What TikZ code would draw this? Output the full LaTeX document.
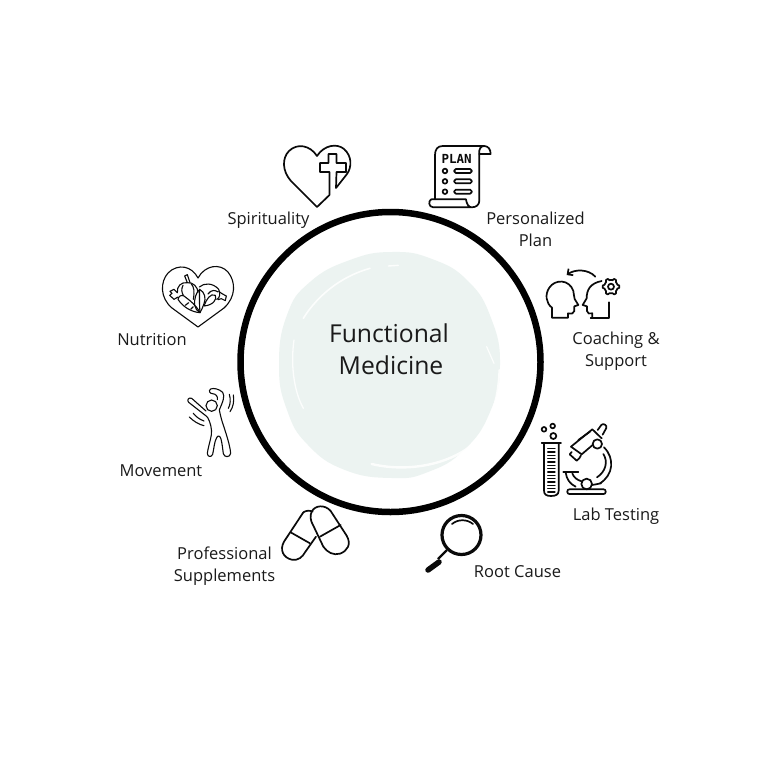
\documentclass[tikz,border=0pt]{standalone}
\usepackage{fontspec}
\setmainfont{Open Sans}
\newfontfamily\planf{DejaVu Sans Mono}
\usetikzlibrary{arrows.meta}
\definecolor{ink}{HTML}{0A0A0A}
\definecolor{txt}{HTML}{1A1A1A}
\definecolor{blob}{HTML}{ECF3F1}
\tikzset{
 lab/.style={text=txt,font=\fontsize{16.5}{22}\selectfont,align=center,inner sep=0pt},
 ttl/.style={text=txt,font=\fontsize{24.7}{30}\selectfont,inner sep=0pt},
 ic/.style={draw=ink,line width=1.7pt,line join=round,line cap=round,fill=none},
 icthin/.style={draw=ink,line width=1.1pt,line join=round,line cap=round,fill=none},
 brush/.style={white,line cap=round,opacity=.85},
}
\begin{document}
\begin{tikzpicture}[x=1pt,y=-1pt]
\useasboundingbox (0,0) rectangle (756,763);
\fill[white] (0,0) rectangle (756,763);
% brushed central disc
\fill[blob] plot[smooth cycle,tension=.8] coordinates {(392,252)(432,259)(468,281)(491,318)(500,365)(490,412)(464,450)(428,472)(392,478)(345,470)(308,445)(287,410)(279,365)(287,315)(310,282)(350,260)};
\begin{scope}[shift={(270,240)},x=0.3333pt,y=-0.3333pt]
\draw[brush,line width=1.6pt] (100,235) .. controls (140,170) and (210,110) .. (300,85);
\draw[brush,line width=1.4pt] (355,78) -- (385,76);
\draw[brush,line width=1.3pt] (72,300) .. controls (62,370) and (70,450) .. (100,505);
\draw[brush,line width=2.4pt] (305,672) .. controls (400,695) and (520,680) .. (600,620);
\draw[brush,line width=1.8pt] (610,610) .. controls (660,560) and (685,480) .. (688,390);
\draw[brush,line width=1.2pt] (650,320) -- (672,370);
\end{scope}
% ring
\node[draw=black,line width=6.5pt,circle,minimum size=300pt,inner sep=0pt] (ring) at (390.5,362) {};
% titles
\node[ttl] (t1) at (389,333) {Functional};
\node[ttl] (t2) at (391,365) {Medicine};
% labels
\node[lab] (spi) at (268.5,220) {Spirituality};
\node[lab] (pla) at (535.5,229) {Personalized\\Plan};
\node[lab] (coa) at (616,351) {Coaching \&\\Support};
\node[lab] (nut) at (152,340) {Nutrition};
\node[lab] (mov) at (161,471) {Movement};
\node[lab] (labt) at (616,516) {Lab Testing};
\node[lab] (roo) at (517.5,572) {Root Cause};
\node[lab] (sup) at (224.5,566) {Professional\\Supplements};
% heart with cross
\draw[ic] (329.5,195) -- (317,207) -- (291,181) .. controls (282,171) and (282,158) .. (289,151) .. controls (297,143) and (310,145) .. (317,156) .. controls (324,145) and (337,143) .. (344,149) .. controls (352,156) and (352,167) .. (347,174) -- (336,188) -- (336.5,172) -- (346,172) -- (346,163) -- (336.5,163) -- (336.5,154) -- (328.5,154) -- (328.5,163) -- (320,163) -- (320,172) -- (329.5,172) -- cycle;
% plan scroll
\begin{scope}[shift={(270,130)},x=0.3333pt,y=-0.3333pt]
\draw[ic] (495,208) -- (495,75) .. controls (495,58) and (503,48) .. (518,48) -- (642,48) .. controls (655,48) and (662,58) .. (662,72) -- (630,72);
\draw[ic] (628,72) .. controls (626,58) and (632,48) .. (642,48);
\draw[ic] (628,72) -- (628,212) .. controls (628,225) and (618,232) .. (605,232) -- (490,232) .. controls (476,232) and (474,212) .. (484,208) -- (588,208) .. controls (590,222) and (596,232) .. (605,232);
\node[inner sep=0pt,text=ink,font=\fontsize{12.5}{14}\planf\bfseries] (plant) at (560,87) {PLAN};
\foreach \yy in {123,154,185} {
 \draw[ic] (525,\yy) circle (7);
 \draw[ic,rounded corners=1.5pt] (553,\yy-6) rectangle (605,\yy+6);
}
\end{scope}
% nutrition heart
\draw[icthin] (198,327) -- (172,308) .. controls (160,298) and (160,282) .. (168,273) .. controls (178,263) and (192,266) .. (198,278) .. controls (205,265) and (220,263) .. (228,272) .. controls (236,282) and (236,297) .. (224,308) -- cycle;
\begin{scope}[shift={(158,262)},x=0.3333pt,y=-0.3333pt]
\draw[icthin] (60,112) .. controls (62,102) and (70,98) .. (78,102) .. controls (95,115) and (115,130) .. (126,152) .. controls (100,150) and (75,135) .. (60,112) -- cycle;
\draw[icthin] (82,130) -- (92,122) (98,142) -- (106,134);
\draw[icthin] (60,105) -- (48,112) -- (35,100) -- (42,94) -- (36,88) -- (48,82) -- (58,92);
\draw[icthin] (58,92) .. controls (56,72) and (70,60) .. (88,62) .. controls (105,60) and (120,75) .. (120,92);
\draw[icthin] (88,62) -- (80,42) -- (88,38) -- (96,62);
\draw[icthin] (75,70) .. controls (70,80) and (70,90) .. (76,100);
\draw[icthin] (100,66) .. controls (108,75) and (110,88) .. (106,112);
\draw[icthin] (110,130) .. controls (108,110) and (115,90) .. (125,82) .. controls (140,90) and (145,110) .. (138,125) .. controls (135,135) and (130,145) .. (126,152) .. controls (118,148) and (112,140) .. (110,130) -- cycle;
\draw[icthin] (125,82) .. controls (124,105) and (124,125) .. (126,152);
\draw[icthin] (124,75) .. controls (138,62) and (165,62) .. (182,82) .. controls (188,92) and (186,110) .. (176,112);
\draw[icthin] (138,132) .. controls (145,112) and (158,92) .. (172,100) .. controls (178,112) and (165,130) .. (138,132) -- cycle;
\draw[icthin] (150,96) .. controls (160,82) and (172,84) .. (180,90);
\draw[icthin] (182,88) -- (192,95) -- (205,102) -- (202,116) -- (190,110) -- (180,113);
\end{scope}
% movement
\begin{scope}[shift={(180,385)},x=0.3333pt,y=-0.3333pt]
\draw[icthin] (95,62) circle (17);
\draw[icthin] (78,78) -- (35,40) .. controls (25,36) and (20,46) .. (26,52) -- (72,88) .. controls (82,95) and (86,100) .. (88,108) .. controls (96,130) and (96,145) .. (92,160) .. controls (88,178) and (84,190) .. (82,205) .. controls (82,216) and (94,218) .. (98,208) .. controls (102,190) and (103,170) .. (110,158) .. controls (114,150) and (120,152) .. (123,162) .. controls (127,178) and (128,192) .. (130,206) .. controls (133,218) and (150,218) .. (152,205) .. controls (150,180) and (138,145) .. (126,108) .. controls (122,95) and (120,85) .. (118,75) .. controls (128,50) and (136,35) .. (128,22) .. controls (118,12) and (100,8) .. (92,12) .. controls (84,18) and (90,26) .. (98,26) .. controls (108,27) and (114,34) .. (112,44);
\draw[icthin] (148,28) .. controls (152,42) and (152,58) .. (145,70);
\draw[icthin] (160,30) .. controls (163,48) and (160,66) .. (150,80);
\draw[icthin] (28,96) .. controls (40,108) and (55,118) .. (72,122);
\draw[icthin] (40,85) .. controls (48,95) and (58,103) .. (72,108);
\end{scope}
% coaching
\begin{scope}[shift={(530,265)},x=0.3333pt,y=-0.3333pt]
\draw[ic] (66,158) -- (66,128) .. controls (48,115) and (44,88) .. (58,68) .. controls (75,42) and (118,42) .. (130,78) .. controls (132,88) and (132,96) .. (134,102) -- (145,120) -- (133,124) -- (133,138) .. controls (132,146) and (124,147) .. (114,145) -- (114,158) -- cycle;
\draw[ic] (182,158) -- (238,158) -- (238,112);
\draw[ic] (187,158) -- (187,145) .. controls (178,147) and (172,146) .. (171,138) -- (171,124) -- (158,120) -- (170,100) .. controls (170,75) and (180,55) .. (215,48);
\draw[ic,rounded corners=.5pt] plot[domain=0:360,samples=73] ({243+(20+5*(cos(6*\x)>0))*cos(\x)},{65+(20+5*(cos(6*\x)>0))*sin(\x)}) -- cycle;
\draw[ic] (243,65) circle (9);
\draw[ic,-{Straight Barb[length=4pt,width=8pt]}] (196,35) .. controls (175,12) and (135,12) .. (110,30);
\end{scope}
% lab testing
\begin{scope}[shift={(535,420)},x=0.3333pt,y=-0.3333pt]
\draw[ic] (20,70) -- (78,70);
\draw[ic] (27,70) -- (27,212) .. controls (27,224) and (35,228) .. (48,228) .. controls (62,228) and (71,224) .. (71,212) -- (71,70);
\foreach \yy in {86,96,...,216} \draw[icthin] (38,\yy) -- (60,\yy);
\draw[ic] (27,28) circle (7) (53,18) circle (7) (55,48) circle (9);
% microscope
\draw[ic] (108,80) -- (172,28) -- (200,55);
\draw[ic] (108,80) -- (140,103) -- (174,74);
\draw[ic] (130,60) -- (165,35);
\draw[ic] (188,30) -- (199,15) .. controls (204,8) and (218,16) .. (214,24) -- (203,44);
\draw[ic] (187,72) circle (14);
\draw[ic] (110,96) -- (104,103) -- (125,122) .. controls (132,118) and (135,112) .. (138,106);
\draw[ic] (207,82) .. controls (240,115) and (235,165) .. (195,190);
\draw[ic] (205,102) .. controls (220,125) and (212,155) .. (186,172);
\draw[ic] (85,157) -- (130,157);
\draw[ic] (92,158) .. controls (95,178) and (105,192) .. (122,200);
\draw[ic] (112,160) .. controls (116,172) and (126,180) .. (140,184);
\draw[ic] (155,192) circle (16);
\draw[ic] (172,195) -- (198,190);
\draw[ic,rounded corners=2pt] (97,208) rectangle (212,222);
\end{scope}
% pills
\begin{scope}[shift={(270,495)},x=0.3333pt,y=-0.3333pt]
\draw[ic] (100,52) -- (42,140) .. controls (28,165) and (40,188) .. (65,194) .. controls (85,198) and (98,185) .. (105,172) -- (138,125);
\draw[ic] (100,52) .. controls (108,46) and (120,46) .. (128,50);
\draw[ic] (62,112) -- (120,145);
\draw[ic] (125,50) .. controls (135,30) and (165,28) .. (182,48) -- (230,122) .. controls (245,148) and (232,168) .. (210,176) .. controls (190,182) and (172,172) .. (160,155) -- (130,92) .. controls (120,75) and (120,62) .. (125,50) -- cycle;
\draw[ic] (150,125) -- (212,90);
\end{scope}
% magnifier
\draw[draw=ink,line width=3.2pt] (461.5,535) circle (19.5);
\draw[ic] (452,524) .. controls (458,519) and (467,519) .. (473,524);
\draw[ink,line width=2.4pt] (447,550) -- (438,559);
\draw[ink,line width=5.5pt,line cap=round] (439,562) -- (428,570);
\end{tikzpicture}
\end{document}
